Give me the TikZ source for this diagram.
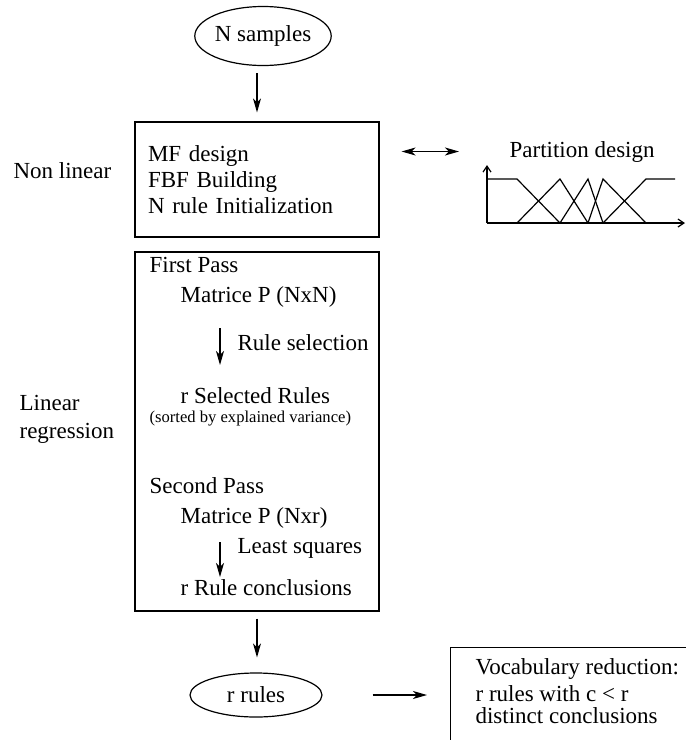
\documentclass[tikz,border=0pt]{standalone}
\usepackage{fontspec}
\setmainfont{Liberation Serif}
\usetikzlibrary{arrows.meta, positioning, shapes.geometric, calc}

\begin{document}
\begin{tikzpicture}[x=0.5pt, y=-0.5pt, line width=0.6pt,
    font=\fontsize{11.5}{13}\selectfont,
    txt/.style={inner sep=0pt, anchor=base west},
    small/.style={txt, font=\fontsize{8.3}{10}\selectfont},
    box/.style={draw, rectangle, inner sep=0pt},
    oval/.style={draw, ellipse, inner sep=0pt},
    tip/.tip={Stealth[length=7pt, width=4pt, inset=2pt]},
    arr/.style={-tip},
    dbl/.style={tip-tip},
    axis/.style={-{Straight Barb[length=3pt, width=4pt]}}]

    \useasboundingbox (0,0) rectangle (686,740);
    \clip (0,0) rectangle (686,740);

    % input and non linear part
    \node[oval, minimum width=64pt, minimum height=29.5pt] (nSamples) at (263,36) {N samples};
    \node[box, minimum width=122pt, minimum height=57.5pt, text width=109pt, align=left]
        (box1) at (257,179.5) {MF design\\ FBF Building\\ N rule Initialization};
    \node[txt] (nonLin) at (13,178) {Non linear};

    \draw[arr] ([yshift=-3.5pt]box1.north |- nSamples.south) -- ([yshift=4.5pt]box1.north);

    % partition
    \node[txt] (partLbl) at (509,157) {Partition design};
    \draw[dbl] ([xshift=11pt]box1.east |- partLbl.center) -- ([xshift=-25pt]partLbl.west);

    \draw[axis] (487,223) -- (487,165);
    \draw[axis] (487,223) -- (685,223);
    \draw (487,179) -- (517,179) -- (560,223);
    \foreach \a/\b/\c in {517/560/588, 560/588/603, 588/603/646}
        \draw (\a,223) -- (\b,179) -- (\c,223);
    \draw (603,223) -- (646,179) -- (675,179);

    % linear regression
    \node[box, minimum width=122pt, minimum height=179.5pt] (box2) at (257,431.5) {};
    \node[txt] (linLbl) at (19,410) {Linear};
    \node[txt] (regLbl) at (19,438) {regression};

    \node[txt] (firstPass) at (149,272) {First Pass};
    \node[txt] (matNN) at (180,302) {Matrice P (NxN)};
    \node[txt] (ruleSel) at (237,350) {Rule selection};
    \node[txt] (selRules) at (180,403) {r Selected Rules};
    \node[small] (sorted) at (149,422) {(sorted by explained variance)};
    \draw[arr] ([xshift=20pt, yshift=-13pt]matNN.base west) -- ([xshift=20pt, yshift=19pt]selRules.base west);

    \node[txt] (secondPass) at (149,493) {Second Pass};
    \node[txt] (matNr) at (180,523) {Matrice P (Nxr)};
    \node[txt] (leastSq) at (237,553) {Least squares};
    \node[txt] (ruleConc) at (180,595) {r Rule conclusions};
    \draw[arr] ([xshift=20pt, yshift=-9.5pt]matNr.base west) -- ([xshift=20pt, yshift=9pt]ruleConc.base west);

    % output
    \node[oval, minimum width=66pt, minimum height=22pt] (rRules) at (256,695) {r rules};
    \draw[arr] ([yshift=-3.5pt]box2.south) -- ([yshift=7.5pt]box2.south |- rRules.north);

    \node[box, anchor=north west, minimum width=130pt, minimum height=55pt] (box3) at (450,647) {};
    \node[txt] (vocab) at (475,674) {Vocabulary reduction:};
    \node[txt] (rWith) at (475,701) {r rules with c \textless{} r};
    \node[txt] (distinct) at (475,723) {distinct conclusions};
    \draw[arr] ([xshift=25pt]rRules.east) -- ([xshift=-11.5pt]box3.west |- rRules.east);

\end{tikzpicture}
\end{document}
